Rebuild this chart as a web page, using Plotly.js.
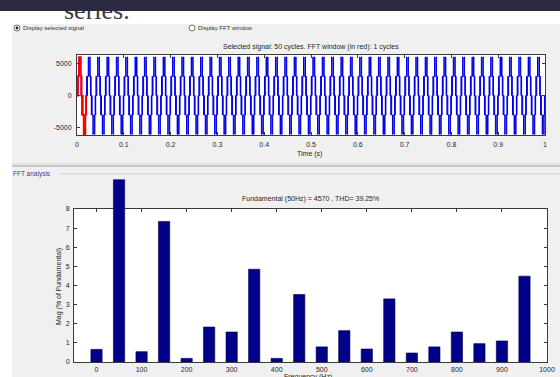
<!DOCTYPE html>
<html>
<head>
<meta charset="utf-8">
<script src="https://cdn.plot.ly/plotly-3.0.1.min.js"></script>
<style>
  html, body { margin: 0; padding: 0; background: #ffffff; }
  #wrap { position: relative; width: 560px; height: 377px; overflow: hidden; }
  #chart { position: absolute; left: 0; top: 0; width: 560px; height: 377px; }
  #band { position: absolute; left: 0; top: 0; width: 560px; height: 11px; background: #2b2a40; }
</style>
</head>
<body>
<div id="wrap">
  <div id="chart"></div>
  <div id="band"></div>
</div>
<script>
// ---- Harmonic spectrum (% of fundamental) ----
const freqHz = [0, 50, 100, 150, 200, 250, 300, 350, 400, 450, 500, 550, 600, 650, 700, 750, 800, 850, 900, 950];
const magPct = [0.66, 9.53, 0.54, 7.35, 0.19, 1.83, 1.57, 4.85, 0.19, 3.53, 0.79, 1.64, 0.68, 3.30, 0.47, 0.79, 1.57, 0.96, 1.10, 4.49];
const freqTicks = [0, 100, 200, 300, 400, 500, 600, 700, 800, 900, 1000];
const magTicks = [0, 1, 2, 3, 4, 5, 6, 7, 8];

// ---- Selected signal: one stepped cycle, repeated over the record ----
const cycleCount = 50;
const fundamentalHz = 50;
const cyclePhase = [0.00, 0.03, 0.06, 0.12, 0.20, 0.24, 0.36, 0.41, 0.44, 0.47, 0.50, 0.53, 0.56, 0.62, 0.70, 0.74, 0.86, 0.91, 0.94, 0.97];
const cycleLevel = [0, 3000, 0, 3000, 6000, 3000, 6000, 3000, 0, 3000, 0, -3000, 0, -3000, -6000, -3000, -6000, -3000, 0, -3000];
const timeTicks = [0, 0.1, 0.2, 0.3, 0.4, 0.5, 0.6, 0.7, 0.8, 0.9, 1];
const timeTickText = ['0', '0.1', '0.2', '0.3', '0.4', '0.5', '0.6', '0.7', '0.8', '0.9', '1'];
const voltTicks = [-5000, 0, 5000];
const voltTickText = ['-5000', '0', '5000'];
const fftWindowCycles = 1;

const titleTop = 'Selected signal: 50 cycles. FFT window (in red): 1 cycles';
const titleFft = 'Fundamental (50Hz) = 4570 , THD= 39.25%';

// ---- page geometry helpers (pixels -> paper fractions) ----
const W = 560, H = 377;
const px = x => x / W;
const py = y => (H - y) / H;

// build the time series from the cycle table
const period = 1 / fundamentalHz;
const tAll = [], vAll = [], tWin = [], vWin = [];
for (let k = 0; k < cycleCount; k++) {
  for (let i = 0; i < cyclePhase.length; i++) {
    const t = (k + cyclePhase[i]) * period;
    tAll.push(t); vAll.push(cycleLevel[i]);
    if (k < fftWindowCycles) { tWin.push(t); vWin.push(cycleLevel[i]); }
  }
}
tAll.push(cycleCount * period); vAll.push(0);
tWin.push(fftWindowCycles * period); vWin.push(0);

const txt = '#262626';
const axLine = '#3a3a3a';
const baseAxis = {
  showgrid: false, zeroline: false, showline: true, mirror: 'ticks',
  linecolor: axLine, linewidth: 1, ticks: 'inside', ticklen: 3, tickwidth: 1,
  tickcolor: axLine, tickfont: { family: 'Liberation Sans, Arial, sans-serif', size: 7, color: txt },
  fixedrange: true
};

const traces = [
  { type: 'scatter', mode: 'lines', x: tAll, y: vAll, xaxis: 'x', yaxis: 'y',
    line: { color: '#0000e8', width: 1, shape: 'hv' }, hoverinfo: 'skip' },
  { type: 'scatter', mode: 'lines', x: tWin, y: vWin, xaxis: 'x', yaxis: 'y',
    line: { color: '#ff0000', width: 1.5, shape: 'hv' }, hoverinfo: 'skip' },
  // frame subplot for the spectrum (ticks, labels, box)
  { type: 'scatter', mode: 'markers', x: [], y: [], xaxis: 'x2', yaxis: 'y2', hoverinfo: 'skip' },
  // spectrum bars, on a taller invisible axis so the fundamental bar can rise above the box
  { type: 'bar', x: freqHz, y: magPct, xaxis: 'x3', yaxis: 'y3', width: 25,
    marker: { color: '#000088', line: { color: '#00004a', width: 0.6 } }, hoverinfo: 'skip' }
];

const boxTop = 209, boxBot = 362, barTop = 175;
const pxPerUnit = (boxBot - boxTop) / magTicks[magTicks.length - 1];

const layout = {
  width: W, height: H,
  margin: { l: 0, r: 0, t: 0, b: 0 },
  paper_bgcolor: '#ffffff',
  plot_bgcolor: 'rgba(0,0,0,0)',
  showlegend: false,
  xaxis: Object.assign({}, baseAxis, {
    domain: [px(77), px(545)], range: [0, 1], anchor: 'y',
    tickvals: timeTicks, ticktext: timeTickText, ticklabelstandoff: 3
  }),
  yaxis: Object.assign({}, baseAxis, {
    domain: [py(135), py(55)], range: [-6100, 6300], anchor: 'x',
    tickvals: voltTicks, ticktext: voltTickText, ticklabelstandoff: 3
  }),
  xaxis2: Object.assign({}, baseAxis, {
    domain: [px(74), px(547)], range: [-50, 1000], anchor: 'y2',
    tickvals: freqTicks, ticklabelstandoff: 1
  }),
  yaxis2: Object.assign({}, baseAxis, {
    domain: [py(boxBot), py(boxTop)], range: [0, 8], anchor: 'x2',
    tickvals: magTicks, ticklabelstandoff: 2
  }),
  xaxis3: { domain: [px(74), px(547)], range: [-50, 1000], anchor: 'y3', visible: false, fixedrange: true },
  yaxis3: { domain: [py(boxBot), py(barTop)], range: [0, (boxBot - barTop) / pxPerUnit], anchor: 'x3', visible: false, fixedrange: true },
  shapes: [
    // window panel
    { type: 'rect', xref: 'paper', yref: 'paper', x0: px(12), x1: 1, y0: 0, y1: py(24),
      fillcolor: '#f0f0f0', line: { width: 0 }, layer: 'below' },
    // axes backgrounds
    { type: 'rect', xref: 'paper', yref: 'paper', x0: px(77), x1: px(545), y0: py(135), y1: py(55),
      fillcolor: '#ffffff', line: { width: 0 }, layer: 'below' },
    { type: 'rect', xref: 'paper', yref: 'paper', x0: px(74), x1: px(547), y0: py(boxBot), y1: py(boxTop),
      fillcolor: '#ffffff', line: { width: 0 }, layer: 'below' },
    // panel separators
    { type: 'line', xref: 'paper', yref: 'paper', x0: px(12), x1: 1, y0: py(164), y1: py(164),
      line: { color: '#d8d8d8', width: 1 }, layer: 'below' },
    { type: 'line', xref: 'paper', yref: 'paper', x0: px(12), x1: 1, y0: py(166), y1: py(166),
      line: { color: '#bdbdbd', width: 1.5 }, layer: 'below' },
    { type: 'line', xref: 'paper', yref: 'paper', x0: px(60), x1: 1, y0: py(174), y1: py(174),
      line: { color: '#d0d0d0', width: 1 }, layer: 'below' },
    // radio buttons
    { type: 'circle', xref: 'paper', yref: 'paper', x0: px(14), x1: px(20), y0: py(31), y1: py(25),
      fillcolor: '#ffffff', line: { color: '#555555', width: 0.8 } },
    { type: 'circle', xref: 'paper', yref: 'paper', x0: px(15.6), x1: px(18.4), y0: py(29.4), y1: py(26.6),
      fillcolor: '#222222', line: { width: 0 } },
    { type: 'circle', xref: 'paper', yref: 'paper', x0: px(189), x1: px(195), y0: py(31), y1: py(25),
      fillcolor: '#ffffff', line: { color: '#555555', width: 0.8 } }
  ],
  annotations: []
};

function note(text, x, y, opts) {
  layout.annotations.push(Object.assign({
    text: text, xref: 'paper', yref: 'paper', x: px(x), y: py(y),
    showarrow: false, xanchor: 'center', yanchor: 'middle',
    font: { family: 'Liberation Sans, Arial, sans-serif', size: 7, color: txt }
  }, opts || {}));
}

note('series.', 62, 26.6, { xanchor: 'left', yanchor: 'bottom',
  font: { family: 'Liberation Serif, Times New Roman, serif', size: 26, color: '#3b3b3b' } });
note('Display selected signal', 21, 28, { xanchor: 'left', font: { family: 'Liberation Sans, Arial, sans-serif', size: 6, color: '#333333' } });
note('Display FFT window', 196, 28, { xanchor: 'left', font: { family: 'Liberation Sans, Arial, sans-serif', size: 6, color: '#333333' } });
note(titleTop, 311, 47);
note('Time (s)', 309, 154);
note('FFT analysis', 11, 174, { xanchor: 'left', font: { family: 'Liberation Sans, Arial, sans-serif', size: 6.5, color: '#3a3aa8' } });
note(titleFft, 310, 199);
note('Mag (% of Fundamental)', 59, 287, { textangle: -90 });
note('Frequency (Hz)', 308, 371, { yanchor: 'top' });

Plotly.newPlot('chart', traces, layout, { staticPlot: true, displayModeBar: false });
</script>
</body>
</html>
